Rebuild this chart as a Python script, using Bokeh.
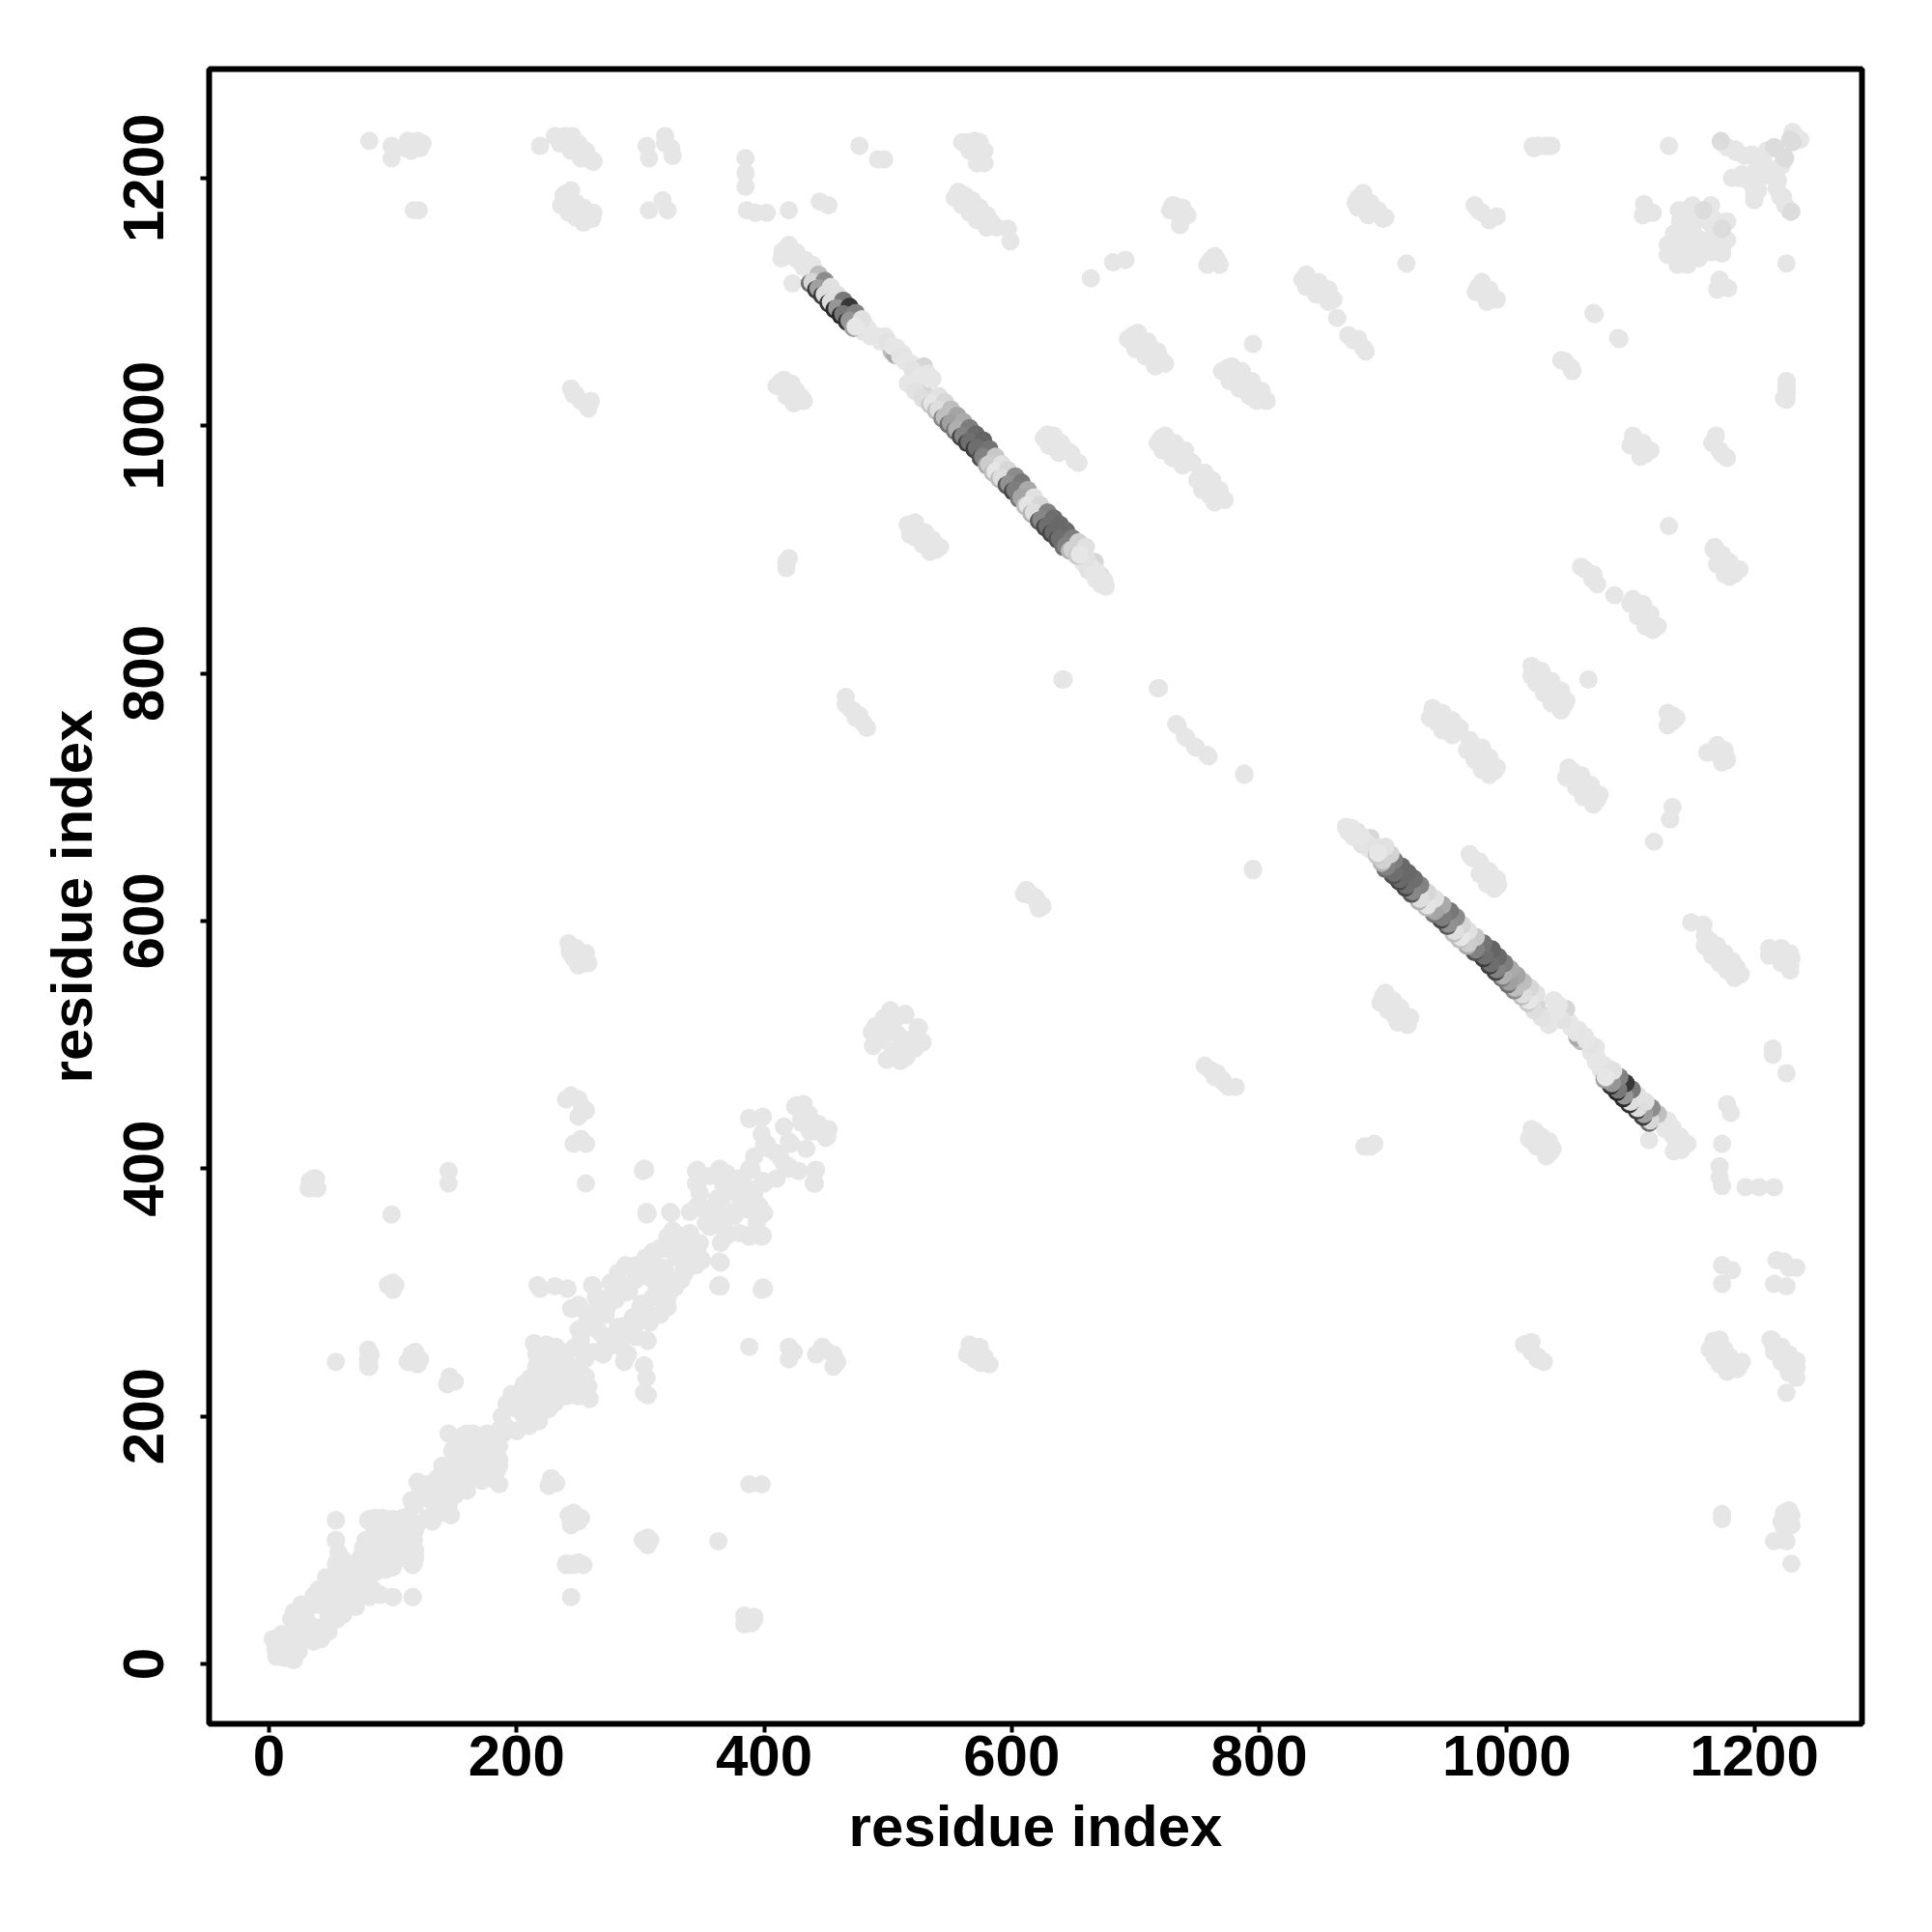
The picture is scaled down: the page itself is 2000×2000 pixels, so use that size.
from bokeh.plotting import figure
from bokeh.embed import file_html
from bokeh.resources import INLINE
from bokeh.models import FixedTicker

tick_values = [0, 200, 400, 600, 800, 1000, 1200]
axis_title = "residue index"

# near-diagonal contacts, i < j (the map is symmetric)
near_i = [3,5,10,15,8,12,18,18,22,26,24,30,22,20,36,40,44,46,38,50,42,54,58,54,60,66,58,72,55,54,
          54,54,80,86,99,105,82,78,87,90,96,103,99,85,100,80,81,100,113,118,120,123,128,134,140,115,128,
          145,150,165,147,146,152,160,168,172,166,165,158,197,190,204,210,196,186,
          214,221,232,221,231,221,215,211,217,245,256,261,270,266,273,248,246,255,245,262,241,217,244,
          282,291,290,305,313,304,301,287,324,332,322,345,345,364,346,340,324,305,303,371,378,363,353,351,367,365,346,346,325,306,304,384,388,390,
          400,409,402,425,430,430,426,420,398,388,388,399,219,231,241,261,
          488,491,495,497,507,514,514,494,502,487,500,505,490,
          6,10,16,20,28,32,26,34,30,40,48,52,46,56,60,64,70,74,82,86,92,96,108,88,76,84,110,122,132,136,142,148,156,160,170,176,180,156,168,178,150,140,
          188,192,200,206,200,212,214,206,216,222,226,228,236,240,216,224,232,224,250,256,264,250,258,264,272,280,288,296,274,252,268,
          296,300,310,318,308,316,326,336,330,340,356,362,374,356,348,370,380,376,392,398,404,416,436,432,
          276,282,288,295,304,310,318,322,325,333,312,298]
near_j = [20,12,18,22,8,14,20,36,30,26,38,36,36,42,55,50,48,58,48,55,48,81,78,72,68,74,62,78,62,66,
          100,116,116,118,116,116,99,100,104,96,104,110,112,90,102,85,117,117,120,128,147,137,134,142,140,132,145,
          186,180,186,156,155,165,176,180,172,182,165,170,214,193,221,214,218,189,
          259,245,241,228,238,245,258,231,228,287,248,280,290,269,287,256,255,273,287,305,303,306,287,
          308,301,305,325,315,322,322,304,342,334,343,398,388,400,370,365,365,365,400,381,381,364,356,367,387,399,399,387,364,364,399,387,400,399,
          419,413,420,450,440,437,451,422,441,441,440,442,303,305,303,306,
          499,507,504,522,509,525,524,514,528,510,515,520,515,
          6,24,10,26,42,30,48,50,44,60,52,62,70,90,84,80,72,86,90,110,118,110,118,96,94,112,114,140,136,150,148,172,184,186,174,186,184,162,168,178,150,160,
          200,210,216,226,206,218,224,214,240,238,252,236,244,250,250,232,256,258,290,284,296,270,272,278,282,294,300,310,296,262,286,
          322,316,326,320,312,336,350,338,328,348,368,376,388,394,380,396,392,366,410,428,416,434,444,452,
          308,316,322,318,328,333,335,345,338,346,322,312]

# separate contacts away from the diagonal, i < j
far_i = [81,99,99,112,117,122,219,231,239,243,249,256,236,262,239,241,244,249,256,261,117,121,305,307,307,320,325,318,322,
         385,385,385,386,393,402,420,445,452,477,492,497,564,574,570,575,557,564,569,576,584,597,599,
         664,682,692,728,736,733,761,766,835,843,852,863,876,884,919,880,887,895,900,977,992,977,987,
         1026,1032,1070,1090,1044,1052,1131,1111,1118,
         413,420,425,430,520,527,534,539,418,466,470,477,483,641,612,621,718,733,740,748,758,788,795,
         629,637,644,651,721,728,736,743,753,758,763,768,698,706,713,721,775,783,791,798,803,795,
         246,256,243,253,244,253,250,256,302,305,37,33,39,99,99,145,145,54,81,81,117,122,146,228,54,54,
         1226,1226]
far_j = [1230,1226,1216,1230,1227,1224,1226,1234,1234,1228,1222,1216,1232,1213,1187,1184,1179,1174,1169,1167,1174,1174,1226,1216,1174,1234,1224,1182,1174,
         1216,1204,1193,1174,1172,1172,1174,1181,1178,1226,1215,1215,1229,1229,1222,1216,1189,1184,1177,1169,1164,1159,1149,
         1119,1132,1134,1174,1168,1177,1134,1134,1118,1114,1106,1087,1069,1063,1131,1184,1178,1172,1167,1174,1169,1112,1104,
         1226,1226,1091,1071,1053,1047,1226,1179,1172,
         1035,1030,1023,1023,917,910,905,900,890,781,771,766,756,795,625,614,788,759,749,741,734,719,642,
         993,987,980,972,990,983,978,972,960,953,947,941,1073,1067,1060,1053,1047,1042,1035,1028,1023,1066,
         1025,1018,575,571,459,450,422,388,398,363,388,390,384,363,306,398,388,244,246,240,246,246,229,146,116,100,
         1031,1021]

# further dots that make those contacts into the thick short streaks
thick_i = [110,120,115,124,235,245,250,256,262,252,244,238,244,248,254,260,236,242,248,254,262,320,326,
           560,570,578,566,572,578,562,568,574,580,588,554,560,566,572,580,730,738,742,736,758,764,768,
           838,848,856,860,846,838,856,872,880,886,878,884,890,896,902,888,880,975,980,986,992,984,974,980,986,1110,
           410,416,422,426,432,418,424,516,522,530,536,542,522,528,534,518,418,420,466,474,480,472,610,618,624,
           626,634,640,648,654,630,638,718,724,732,740,746,722,730,738,750,756,762,768,772,754,760,764,
           694,702,710,718,724,700,708,716,770,778,786,794,802,806,776,784,792,798,
           246,248,256,258,250,240,250,256,250,246,256,252,32,36,96,102,144,150,80,82,114,118,120,226,232,244,250,244,252,246,254,240,35,38,302,308,
           254,244,248,252,242,244,252,248,258,260,1022,1036,1226,1226]
thick_j = [1224,1230,1222,1228,1228,1234,1228,1222,1214,1216,1222,1186,1190,1180,1176,1172,1178,1172,1168,1164,1172,1228,1218,
           1229,1230,1222,1222,1212,1212,1186,1182,1176,1170,1160,1184,1178,1172,1166,1160,1178,1176,1170,1162,1130,1137,1130,
           1122,1116,1110,1102,1106,1112,1100,1073,1070,1060,1180,1188,1180,1174,1168,1170,1176,1108,1116,1110,1102,1100,1178,1172,1166,1170,
           1032,1037,1034,1028,1020,1024,1018,920,922,914,908,902,910,904,898,912,885,893,775,764,760,770,622,620,612,
           990,992,986,978,970,984,978,986,992,986,980,970,980,974,968,956,962,956,948,940,948,944,938,
           1070,1075,1068,1060,1050,1062,1056,1048,1044,1048,1044,1036,1028,1020,1036,1030,1024,1020,
           570,578,574,566,564,456,456,447,442,420,420,424,384,392,306,306,226,228,243,250,244,248,242,144,146,120,115,112,118,80,80,80,385,392,100,100,
           569,579,574,566,582,1030,1020,1025,1014,1020,1224,1226,1026,1036]

# the clusters by the C-terminal end
end_i = [1139,1159,1132,1139,1173,1174,1138,1154,1156,1172,1147,1145,1152,1163,1130,1165,1150,
         1173,1178,1185,1192,1200,1231,1237,1182,1193,1187,1198,1185,1205,1211,1219,1200,1210,1203,
         1145,1140,1150,1165,1135,1142,1158,1168,1178,1130,1148,1155]
end_j = [1174,1174,1142,1133,1159,1143,1156,1151,1138,1154,1161,1145,1168,1165,1138,1170,1158,
         1229,1225,1221,1218,1217,1237,1231,1200,1199,1200,1219,1223,1212,1208,1198,1205,1222,1190,
         1150,1165,1178,1178,1150,1140,1145,1160,1165,1146,1168,1135]

# slightly darker contacts in the same clusters
deep_i = [1216,1224,1173,1174,1229]
deep_j = [1225,1217,1230,1159,1231]

# the mid-strand bend, a little darker
bend_i = [503,506,524]
bend_j = [1060,1057,1044]
bend_g = [190,170,208]

# the pale stretches of the long antiparallel strand
pale_i = [415,419,422,427,433,439,423,420,426,432,436,414,
          481,484,488,492,498,507,512,516,519,529,536,
          518,524,532,535,658,662,667,672,675,676,
          480,486,494,500,504,510,514,520,526,532,516,522,528,664,669,660,655,650,668,672]
pale_j = [1141,1140,1137,1134,1134,1130,1115,1146,1140,1128,1126,1135,
          1082,1078,1073,1072,1072,1063,1058,1052,1050,1048,1038,
          1035,1029,1024,1018,889,883,890,879,875,870,
          1076,1072,1068,1068,1064,1056,1052,1045,1040,1042,1034,1028,1022,886,882,893,897,902,876,872]
pale_grey = [230,230,230,230,230,230,230,230,230,230,230,230,
             230,230,230,230,230,228,230,230,230,215,230,
             230,222,215,222,230,226,215,222,230,230,
             228,230,230,226,230,228,230,226,230,230,230,226,222,228,230,226,230,230,230,230]

# the darker stretches, read as three dots each: crest, sliver, body
crest_i = [444,449,454,459,464,469,474,479,541,546,551,556,561,566,571,577,582,587,592,597,603,608,613,618,623,629,634,639,644,649,654,660]
crest_j = [1122,1117,1112,1106,1101,1096,1091,1086,1024,1019,1013,1008,1003,998,993,988,981,975,969,964,959,954,948,942,936,930,925,920,915,909,906,902]
crest_g = [190,140,225,225,120,55,130,225,225,215,190,165,170,125,105,100,115,200,225,215,140,120,170,225,215,130,110,105,105,125,210,225]
sliver_i = [437,442,447,452,457,462,467,472,534,539,544,549,554,559,564,570,575,580,585,590,596,601,606,611,616,622,627,632,637,642,647,653]
sliver_j = [1115,1110,1105,1099,1094,1089,1084,1079,1017,1012,1006,1001,996,991,986,981,974,968,962,957,952,947,941,935,929,923,918,913,908,902,899,895]
sliver_g = [110,60,60,50,40,35,50,160,200,190,140,110,120,70,60,60,80,170,190,190,90,70,120,190,180,90,70,70,80,110,180,200]
body_i = [439,444,449,454,459,464,469,474,536,541,546,551,556,561,566,572,577,582,587,592,598,603,608,613,618,624,629,634,639,644,649,655]
body_j = [1116,1111,1106,1100,1095,1090,1085,1080,1018,1013,1007,1002,997,992,987,982,975,969,963,958,953,948,942,936,930,924,919,914,909,903,900,896]
body_g = [215,160,222,222,150,120,150,230,230,222,190,160,175,130,110,110,130,205,230,222,145,125,165,228,222,135,110,105,110,130,210,230]

p = figure(width=1984, height=1984, frame_width=1711, frame_height=1713,
           x_range=(-48.4, 1287), y_range=(-48.4, 1288),
           output_backend="svg", toolbar_location=None,
           min_border_left=216, min_border_right=57, min_border_top=71, min_border_bottom=200,
           background_fill_color="white", border_fill_color="white")
p.grid.visible = False
p.outline_line_color = "black"
p.outline_line_width = 6

DOT = 19
LIGHT = "#e6e6e6"


def grey(levels):
    return ["#%02x%02x%02x" % (g, g, g) for g in levels]


for a, b in ((near_i, near_j), (far_i, far_j), (thick_i, thick_j), (end_i, end_j)):
    p.scatter(a + b, b + a, size=DOT, fill_color=LIGHT, line_color=None)
p.scatter(deep_i + deep_j, deep_j + deep_i, size=DOT, fill_color="#dcdcdc", line_color=None)

seq_i, seq_j, seq_g = bend_i + pale_i, bend_j + pale_j, bend_g + pale_grey
for n in range(len(crest_i)):
    seq_i += [crest_i[n], sliver_i[n], body_i[n]]
    seq_j += [crest_j[n], sliver_j[n], body_j[n]]
    seq_g += [crest_g[n], sliver_g[n], body_g[n]]
seq_col = grey(seq_g)
p.scatter(seq_i, seq_j, size=DOT, fill_color=seq_col, line_color=None)
p.scatter(seq_j, seq_i, size=DOT, fill_color=seq_col, line_color=None)

for ax in (p.xaxis[0], p.yaxis[0]):
    ax.ticker = FixedTicker(ticks=tick_values)
    ax.axis_line_color = None
    ax.major_tick_line_color = "black"
    ax.major_tick_line_width = 4
    ax.major_tick_in = 0
    ax.major_tick_out = 9
    ax.minor_tick_line_color = None
    ax.axis_label = axis_title
    ax.axis_label_text_font = "Liberation Sans"
    ax.axis_label_text_font_style = "bold"
    ax.axis_label_text_font_size = "60px"
    ax.axis_label_text_color = "black"
    ax.major_label_text_font = "Liberation Sans"
    ax.major_label_text_font_style = "bold"
    ax.major_label_text_font_size = "60px"
    ax.major_label_text_color = "black"

p.yaxis[0].major_label_orientation = "vertical"
p.xaxis[0].major_label_standoff = 3
p.yaxis[0].major_label_standoff = 38
p.xaxis[0].axis_label_standoff = 16
p.yaxis[0].axis_label_standoff = 18

open("out.html", "w").write(file_html(p, INLINE))
